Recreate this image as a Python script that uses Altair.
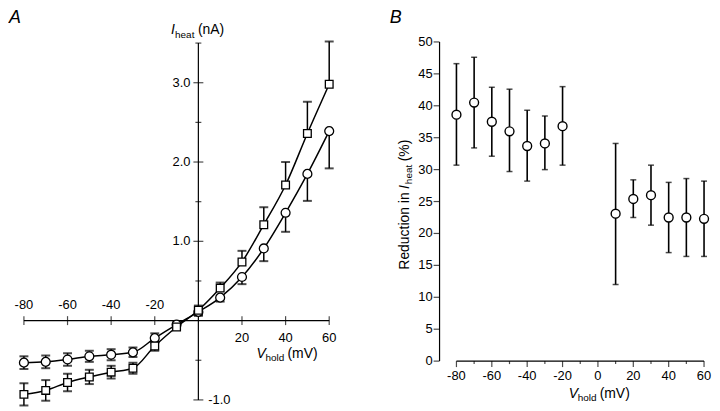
import altair as alt
import pandas as pd

FONT = "Liberation Sans"

# ---------------- Panel A data ----------------
v_a = [-80, -70, -60, -50, -40, -30, -20, -10, 0, 10, 20, 30, 40, 50, 60]
circle_i = [-0.53, -0.52, -0.49, -0.45, -0.43, -0.40, -0.22, -0.05, 0.11, 0.29, 0.55, 0.91, 1.36, 1.85, 2.39]
circle_err = [0.08, 0.08, 0.08, 0.07, 0.07, 0.06, 0.06, 0.03, 0.05, 0.05, 0.09, 0.16, 0.24, 0.34, 0.47]
square_i = [-0.93, -0.88, -0.78, -0.71, -0.65, -0.60, -0.32, -0.08, 0.13, 0.41, 0.74, 1.21, 1.71, 2.36, 2.98]
square_err = [0.14, 0.13, 0.11, 0.09, 0.08, 0.07, 0.06, 0.03, 0.06, 0.07, 0.14, 0.22, 0.29, 0.40, 0.54]
xticks_a = [-80, -60, -40, -20, 20, 40, 60]
yticks_a_major = [3.0, 2.0, 1.0, -1.0]
yticks_a_minor = [3.5, 2.5, 1.5, 0.5, -0.5]

# ---------------- Panel B data ----------------
v_b = [-80, -70, -60, -50, -40, -30, -20, 10, 20, 30, 40, 50, 60]
red_b = [38.6, 40.5, 37.5, 36.0, 33.7, 34.1, 36.8, 23.1, 25.4, 26.0, 22.5, 22.5, 22.3]
hi_b = [46.6, 47.6, 42.9, 42.6, 39.3, 38.4, 43.0, 34.1, 28.4, 30.7, 28.0, 28.6, 28.2]
lo_b = [30.7, 33.4, 32.1, 29.7, 28.2, 30.0, 30.7, 12.0, 22.5, 21.3, 17.0, 16.4, 16.4]
xticks_b_major = [-80, -60, -40, -20, 0, 20, 40, 60]
xticks_b_minor = [-70, -50, -30, -10, 10, 30, 50]
yticks_b = [0, 5, 10, 15, 20, 25, 30, 35, 40, 45, 50]


def label(txt, x, y, size=13, italic=False, align="left", angle=0, baseline="middle"):
    kw = dict(font=FONT, fontSize=size, align=align, baseline=baseline, color="black")
    if italic:
        kw["fontStyle"] = "italic"
    if angle:
        kw["angle"] = angle
    return alt.Chart(pd.DataFrame({"label": [txt]})).mark_text(**kw).encode(
        x=alt.value(x), y=alt.value(y), text="label:N")


# ================= Panel A =================
WA, H = 342, 395
xa = alt.Scale(domain=[-87.3, 68.65], nice=False, zero=False)
ya = alt.Scale(domain=[-1.05, 3.903], nice=False, zero=False)

rows = []
for v, i, e in zip(v_a, circle_i, circle_err):
    rows.append(dict(series="circle", v=v, i=i, lo=i - e, hi=(i + e) if v < 10 else i))
for v, i, e in zip(v_a, square_i, square_err):
    rows.append(dict(series="square", v=v, i=i, lo=(i - e) if v < 10 else i, hi=i + e))
dfa = pd.DataFrame(rows)

X = lambda f: alt.X(f, type="quantitative", scale=xa, axis=None)
Y = lambda f: alt.Y(f, type="quantitative", scale=ya, axis=None)

xaxis_a = alt.Chart(pd.DataFrame({"x": [min(xticks_a)], "x2": [max(xticks_a)], "y": [0]})).mark_rule(
    color="black", strokeWidth=1.2).encode(x=X("x"), x2="x2", y=Y("y"))
yaxis_a = alt.Chart(pd.DataFrame({"x": [0], "y": [min(yticks_a_major + yticks_a_minor)],
                                  "y2": [max(yticks_a_major + yticks_a_minor)]})).mark_rule(
    color="black", strokeWidth=1.2).encode(x=X("x"), y=Y("y"), y2="y2")
dxt = pd.DataFrame({"x": xticks_a, "y": [0] * len(xticks_a)})
xt_a = alt.Chart(dxt).mark_tick(orient="vertical", size=9, thickness=1.2, color="black").encode(
    x=X("x"), y=Y("y"))
dneg = dxt[dxt.x < 0]
dpos = dxt[dxt.x > 0]
xl_neg = alt.Chart(dneg).transform_calculate(t="toString(datum.x)").mark_text(
    font=FONT, fontSize=13, dy=-16, color="black").encode(x=X("x"), y=Y("y"), text="t:N")
xl_pos = alt.Chart(dpos).transform_calculate(t="toString(datum.x)").mark_text(
    font=FONT, fontSize=13, dy=17, color="black").encode(x=X("x"), y=Y("y"), text="t:N")
dyt = pd.DataFrame({"y": yticks_a_major, "x": [0] * len(yticks_a_major)})
dym = pd.DataFrame({"y": yticks_a_minor, "x": [0] * len(yticks_a_minor)})
yt_a = alt.Chart(dyt).mark_tick(orient="horizontal", size=10, thickness=1.2, color="black").encode(
    x=X("x"), y=Y("y"))
ytm_a = alt.Chart(dym).mark_tick(orient="horizontal", size=6, thickness=1.2, color="black").encode(
    x=X("x"), y=Y("y"))
yl_pos = alt.Chart(dyt[dyt.y > 0]).transform_calculate(
    t="format(datum.y, '.1f')").mark_text(font=FONT, fontSize=13, dx=-8, align="right",
                                          color="black").encode(x=X("x"), y=Y("y"), text="t:N")
yl_neg = alt.Chart(dyt[dyt.y < 0]).transform_calculate(
    t="replace(format(datum.y, '.1f'), '\u2212', '-')").mark_text(
    font=FONT, fontSize=13, dx=10, align="left", color="black").encode(
    x=X("x"), y=Y("y"), text="t:N")

base_a = alt.Chart(dfa)
lines_a = base_a.mark_line(color="black", strokeWidth=1.5, interpolate="monotone").encode(
    x=X("v"), y=Y("i"), detail="series:N")
err_a = base_a.mark_rule(color="black", strokeWidth=1.5).encode(x=X("v"), y=Y("lo"), y2="hi")
cap_lo = base_a.transform_filter("datum.lo < datum.i").mark_tick(
    orient="horizontal", size=9, thickness=2, color="black").encode(x=X("v"), y=Y("lo"))
cap_hi = base_a.transform_filter("datum.hi > datum.i").mark_tick(
    orient="horizontal", size=9, thickness=2, color="black").encode(x=X("v"), y=Y("hi"))
pts_c = base_a.transform_filter("datum.series == 'circle'").mark_point(
    shape="circle", filled=True, fill="white", stroke="black", strokeWidth=1.3, size=80,
    opacity=1).encode(x=X("v"), y=Y("i"))
pts_s = base_a.transform_filter("datum.series == 'square'").mark_point(
    shape="square", filled=True, fill="white", stroke="black", strokeWidth=1.3, size=60,
    opacity=1).encode(x=X("v"), y=Y("i"))

panel_a = alt.layer(
    xaxis_a, yaxis_a, xt_a, yt_a, ytm_a, xl_neg, xl_pos, yl_pos, yl_neg,
    lines_a, err_a, cap_lo, cap_hi, pts_c, pts_s,
    label("A", 1, 7, size=18, italic=True),
    label("I", 164, 19, size=14, italic=True),
    label("heat", 168, 24, size=10),
    label("(nA)", 191, 19, size=14),
    label("V", 250, 345, size=14, italic=True),
    label("hold", 259, 349, size=10),
    label("(mV)", 281, 345, size=14),
).properties(width=WA, height=H)

# ================= Panel B =================
WB = 362
xb = alt.Scale(domain=[-141.28, 62.25], nice=False, zero=False)
yb = alt.Scale(domain=[-6.70, 54.83], nice=False, zero=False)
XB = lambda f: alt.X(f, type="quantitative", scale=xb, axis=None)
YB = lambda f: alt.Y(f, type="quantitative", scale=yb, axis=None)
AXB = -89.55

dfb = pd.DataFrame({"v": v_b, "r": red_b, "hi": hi_b, "lo": lo_b})

yaxis_b = alt.Chart(pd.DataFrame({"x": [AXB], "y": [min(yticks_b)], "y2": [max(yticks_b)]})).mark_rule(
    color="black", strokeWidth=1.2).encode(x=XB("x"), y=YB("y"), y2="y2")
dyb = pd.DataFrame({"y": yticks_b, "x": [AXB] * len(yticks_b)})
yt_b = alt.Chart(dyb).mark_tick(orient="horizontal", size=6, thickness=1.2, xOffset=-3,
                                color="black").encode(x=XB("x"), y=YB("y"))
yl_b = alt.Chart(dyb).transform_calculate(t="toString(datum.y)").mark_text(
    font=FONT, fontSize=13, dx=-7, align="right", color="black").encode(
    x=XB("x"), y=YB("y"), text="t:N")
xaxis_b = alt.Chart(pd.DataFrame({"x": [min(xticks_b_major)], "x2": [max(xticks_b_major)],
                                  "y": [0]})).mark_rule(color="black", strokeWidth=1.2).encode(
    x=XB("x"), x2="x2", y=YB("y"))
dxb = pd.DataFrame({"x": xticks_b_major, "y": [0] * len(xticks_b_major)})
dxbm = pd.DataFrame({"x": xticks_b_minor, "y": [0] * len(xticks_b_minor)})
xt_b = alt.Chart(dxb).mark_tick(orient="vertical", size=6, thickness=1.2, yOffset=3,
                                color="black").encode(x=XB("x"), y=YB("y"))
xtm_b = alt.Chart(dxbm).mark_tick(orient="vertical", size=3, thickness=1.2, yOffset=1.5,
                                  color="black").encode(x=XB("x"), y=YB("y"))
xl_b = alt.Chart(dxb).transform_calculate(t="toString(datum.x)").mark_text(
    font=FONT, fontSize=13, dy=15, color="black").encode(x=XB("x"), y=YB("y"), text="t:N")

base_b = alt.Chart(dfb)
err_b = base_b.mark_rule(color="black", strokeWidth=1.6).encode(x=XB("v"), y=YB("lo"), y2="hi")
caplo_b = base_b.mark_tick(orient="horizontal", size=6, thickness=1.5, color="black").encode(
    x=XB("v"), y=YB("lo"))
caphi_b = base_b.mark_tick(orient="horizontal", size=6, thickness=1.5, color="black").encode(
    x=XB("v"), y=YB("hi"))
pts_b = base_b.mark_point(shape="circle", filled=True, fill="white", stroke="black",
                          strokeWidth=1.4, size=80, opacity=1).encode(x=XB("v"), y=YB("r"))

panel_b = alt.layer(
    yaxis_b, yt_b, yl_b, xaxis_b, xt_b, xtm_b, xl_b,
    err_b, caplo_b, caphi_b, pts_b,
    label("B", 42, 7, size=18, italic=True),
    label("Reduction in", 57, 260, size=14, angle=270),
    label("I", 57, 179, size=14, angle=270, italic=True),
    label("heat", 61, 174, size=10, angle=270),
    label("(%)", 57, 151, size=14, angle=270),
    label("V", 222, 385, size=14, italic=True),
    label("hold", 231, 389, size=10),
    label("(mV)", 253, 385, size=14),
).properties(width=WB, height=H)

chart = alt.hconcat(panel_a, panel_b, spacing=0).properties(padding=0).configure_view(strokeWidth=0)
chart.save("out.html", embed_options={"renderer": "svg", "actions": False})
